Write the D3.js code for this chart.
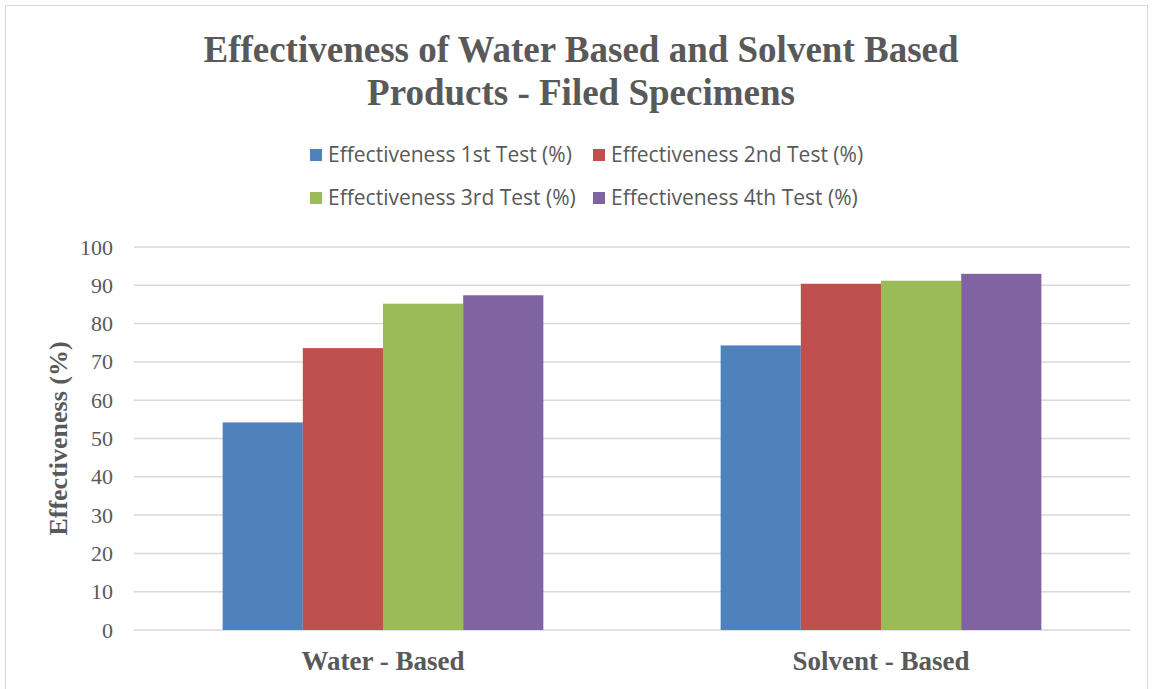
<!DOCTYPE html>
<html>
<head>
<meta charset="utf-8">
<script src="https://cdn.jsdelivr.net/npm/d3@7"></script>
<style>
  html, body { margin: 0; padding: 0; background: #fff; }
  svg { display: block; }
</style>
</head>
<body>
<svg id="chart" width="1153" height="689"></svg>
<script>
// Product groups along the x axis
const categories = ["Water - Based", "Solvent - Based"];
// One series per test round
const seriesNames = [
  "Effectiveness 1st Test (%)",
  "Effectiveness 2nd Test (%)",
  "Effectiveness 3rd Test (%)",
  "Effectiveness 4th Test (%)"
];
const test1 = [54.2, 74.3];
const test2 = [73.6, 90.4];
const test3 = [85.2, 91.2];
const test4 = [87.4, 93.0];
const yTicks = [0, 10, 20, 30, 40, 50, 60, 70, 80, 90, 100];
const colors = ["#4f81bd", "#c0504d", "#9bbb59", "#8064a2"];

const seriesValues = [test1, test2, test3, test4];

const svg = d3.select("#chart");
const W = 1153, H = 689;
const plot = { left: 134, right: 1130, top: 247, bottom: 630 };
const grey = "#595959";
const serif = "'Liberation Serif', 'Times New Roman', serif";
const sans = "'Open Sans', 'Noto Sans', sans-serif";

// Outer chart frame
svg.append("rect")
  .attr("x", 5.5).attr("y", 5.5)
  .attr("width", W - 11).attr("height", H - 5)
  .attr("fill", "#fff").attr("stroke", "#d9d9d9").attr("stroke-width", 1);

// Title
const title = svg.append("text")
  .attr("text-anchor", "middle")
  .attr("font-family", serif).attr("font-weight", "bold")
  .attr("font-size", 37).attr("fill", grey);
title.append("tspan").attr("x", 581).attr("y", 62)
  .text("Effectiveness of Water Based and Solvent Based");
title.append("tspan").attr("x", 581).attr("y", 105)
  .text("Products - Filed Specimens");

// Scales
const x0 = d3.scaleBand().domain(categories).range([plot.left, plot.right]).padding(0);
const groupWidth = x0.bandwidth() * 0.644;
const x1 = d3.scaleBand().domain(d3.range(seriesNames.length))
  .range([0, groupWidth]).padding(0);
const y = d3.scaleLinear().domain([0, 100]).range([plot.bottom, plot.top]);

// Horizontal gridlines
svg.append("g").selectAll("line").data(yTicks).join("line")
  .attr("x1", plot.left).attr("x2", plot.right)
  .attr("y1", d => y(d)).attr("y2", d => y(d))
  .attr("stroke", "#d9d9d9").attr("stroke-width", 1.5);

// Y axis tick labels
const yAxis = d3.axisLeft(y).tickValues(yTicks).tickSize(0).tickPadding(0);
const yg = svg.append("g").attr("transform", `translate(${plot.left - 21},0)`).call(yAxis);
yg.select(".domain").remove();
yg.selectAll("text")
  .attr("font-family", serif).attr("font-size", 22).attr("fill", grey);

// Bars
const groups = svg.append("g").selectAll("g").data(categories).join("g")
  .attr("transform", d => `translate(${x0(d) + (x0.bandwidth() - groupWidth) / 2},0)`);
groups.selectAll("rect")
  .data((c, ci) => seriesValues.map((vals, si) => ({ si, v: vals[ci] })))
  .join("rect")
  .attr("x", d => x1(d.si))
  .attr("width", x1.bandwidth())
  .attr("y", d => y(d.v))
  .attr("height", d => y(0) - y(d.v))
  .attr("fill", d => colors[d.si]);

// X axis category labels
const xAxis = d3.axisBottom(x0).tickSize(0).tickPadding(0);
const xg = svg.append("g").attr("transform", `translate(0,${plot.bottom + 40})`).call(xAxis);
xg.select(".domain").remove();
xg.selectAll("text")
  .attr("dy", 0)
  .attr("font-family", serif).attr("font-weight", "bold")
  .attr("font-size", 27).attr("fill", grey);

// Y axis title
svg.append("text")
  .attr("transform", `translate(67,${(plot.top + plot.bottom) / 2}) rotate(-90)`)
  .attr("text-anchor", "middle")
  .attr("font-family", serif).attr("font-weight", "bold")
  .attr("font-size", 26).attr("fill", grey)
  .text("Effectiveness (%)");

// Legend, two rows of two
const legendPos = [
  { x: 310, y: 155 }, { x: 593, y: 155 },
  { x: 310, y: 198 }, { x: 593, y: 198 }
];
const legend = svg.append("g").selectAll("g").data(seriesNames).join("g")
  .attr("transform", (d, i) => `translate(${legendPos[i].x},${legendPos[i].y})`);
legend.append("rect")
  .attr("x", 0).attr("y", -6).attr("width", 12).attr("height", 12)
  .attr("fill", (d, i) => colors[i]);
legend.append("text")
  .attr("x", 18).attr("y", 0).attr("dy", "0.35em")
  .attr("font-family", sans).attr("font-size", 21).attr("fill", grey)
  .text(d => d);
</script>
</body>
</html>
